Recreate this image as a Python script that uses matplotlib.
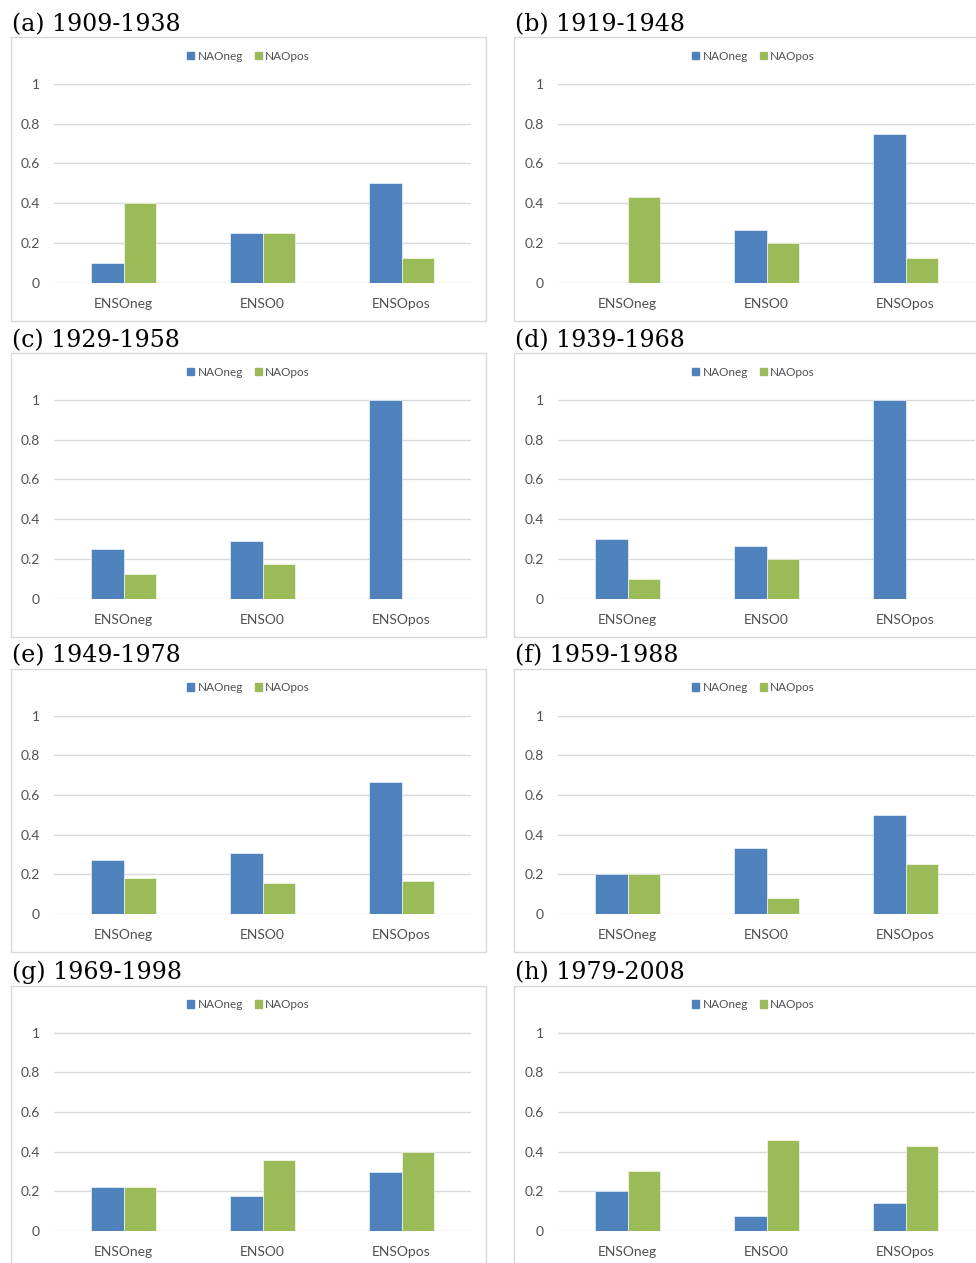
"""
Frequency of NAO phases for each ENSO phase, 30-year moving windows.
Grid of 8 bar panels in the style of Excel charts.
"""
import matplotlib
matplotlib.use('Agg')
import numpy as np
import matplotlib.pyplot as plt
from matplotlib.patches import Rectangle, Patch

# --- data ---------------------------------------------------------------
categories = ['ENSOneg', 'ENSO0', 'ENSOpos']
labels = ['(a)', '(b)', '(c)', '(d)', '(e)', '(f)', '(g)', '(h)']
periods = ['1909-1938', '1919-1948', '1929-1958', '1939-1968',
           '1949-1978', '1959-1988', '1969-1998', '1979-2008']

nao_neg = [
    [0.10, 0.25, 0.50],
    [0.00, 0.267, 0.75],
    [0.25, 0.29, 1.00],
    [0.30, 0.264, 1.00],
    [0.272, 0.307, 0.667],
    [0.20, 0.333, 0.50],
    [0.222, 0.178, 0.297],
    [0.20, 0.074, 0.141],
]
nao_pos = [
    [0.40, 0.25, 0.125],
    [0.429, 0.20, 0.125],
    [0.125, 0.173, 0.00],
    [0.10, 0.20, 0.00],
    [0.182, 0.154, 0.167],
    [0.20, 0.083, 0.25],
    [0.222, 0.36, 0.40],
    [0.30, 0.46, 0.429],
]
series_names = ['NAOneg', 'NAOpos']
yticks = [0, 0.2, 0.4, 0.6, 0.8, 1]

# --- style ---------------------------------------------------------------
BLUE = '#4F81BD'
GREEN = '#9BBB59'
GRID = '#D9D9D9'
TXT = '#505050'
W, H = 976, 1263
DPI = 100

fig = plt.figure(figsize=(W / DPI, H / DPI), dpi=DPI)

# pixel layout (from top-left)
col_plot_x = [(54, 471), (558, 975)]
col_box_x = [(11, 486), (514, 993)]
col_title_x = [12, 515]
row_zero_y = [282.5, 598.5, 914, 1231]
unit_px = 198.5
ytop = 1.02


def fx(px):
    return px / W


def fy(py):
    return 1 - py / H


x = np.arange(len(categories))
bw = 0.237

for i in range(8):
    row, col = divmod(i, 2)
    x0, x1 = col_plot_x[col]
    y0 = row_zero_y[row]
    y1 = y0 - unit_px * ytop

    # panel frame
    bx0, bx1 = col_box_x[col]
    fig.patches.append(Rectangle((fx(bx0), fy(y0 + 38)), fx(bx1 - bx0), (245.5 + 38) / H,
                                 transform=fig.transFigure, fill=False,
                                 edgecolor=GRID, linewidth=1.0, zorder=0))

    # panel title
    fig.text(fx(col_title_x[col]), fy(y0 - 251.5), f'{labels[i]} {periods[i]}',
             family='DejaVu Serif', fontsize=17, color='black',
             ha='left', va='baseline')

    ax = fig.add_axes([fx(x0), fy(y0), fx(x1 - x0), (y0 - y1) / H])
    ax.bar(x - bw / 2, nao_neg[i], bw, color=BLUE, edgecolor='white', linewidth=0.4,
           zorder=3, label=series_names[0])
    ax.bar(x + bw / 2, nao_pos[i], bw, color=GREEN, edgecolor='white', linewidth=0.4,
           zorder=3, label=series_names[1])

    ax.set_xlim(-0.5, 2.5)
    ax.set_ylim(0, ytop)
    ax.set_yticks(yticks)
    ax.set_yticklabels(['0', '0.2', '0.4', '0.6', '0.8', '1'])
    ax.set_xticks(x)
    ax.set_xticklabels(categories)
    ax.grid(axis='y', color=GRID, linewidth=1.0, zorder=0)
    ax.set_axisbelow(True)
    for s in ax.spines.values():
        s.set_visible(False)
    ax.tick_params(axis='both', length=0, colors=TXT, labelsize=10)
    ax.tick_params(axis='y', pad=10)
    ax.tick_params(axis='x', pad=11)
    for t in ax.get_xticklabels() + ax.get_yticklabels():
        t.set_family('Lato')

    # legend centred on the panel frame
    handles = [Patch(color=BLUE), Patch(color=GREEN)]
    fig.legend(handles, series_names, loc='center',
               bbox_to_anchor=(fx((bx0 + bx1) / 2), fy(y0 - unit_px - 28)),
               bbox_transform=fig.transFigure, ncol=2, frameon=False,
               handlelength=0.6, handleheight=0.6, handletextpad=0.3,
               columnspacing=1.0, borderpad=0,
               prop={'family': 'Lato', 'size': 8.5}, labelcolor=TXT)

fig.savefig('out.png', dpi=DPI, facecolor='white')
